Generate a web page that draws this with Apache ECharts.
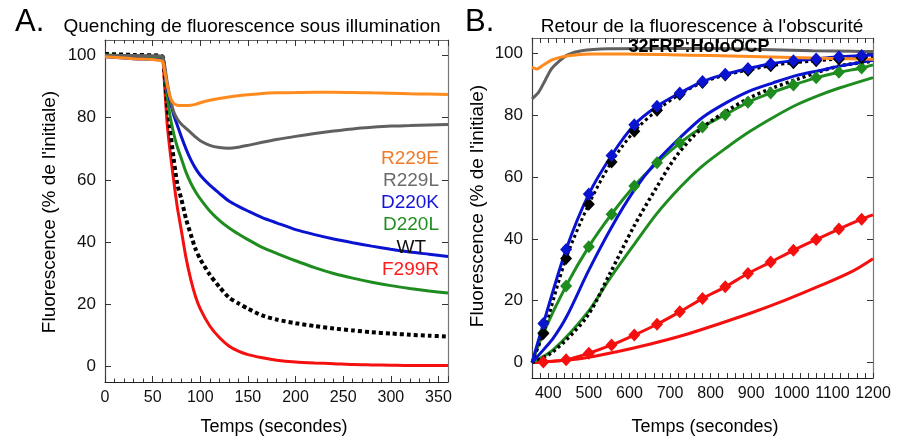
<!DOCTYPE html>
<html><head><meta charset="utf-8">
<script src="https://cdn.jsdelivr.net/npm/echarts@6/dist/echarts.min.js"></script>
<style>html,body{margin:0;padding:0;background:#fff}#c{width:897px;height:441px}</style>
</head><body><div id="c"></div>
<script>
// ---------- Panel A : quenching (time in s) ----------
const tA = [0,30,60,62,65,68,72,76,80,85,90,95,100,110,120,130,140,150,165,180,200,220,240,260,280,300,320,340,360];
const aR229E = [99.6,99.0,98.3,96,91,87,84.6,84,83.9,83.9,84,84.3,84.8,85.6,86.2,86.7,87.1,87.4,87.8,88,88.1,88.2,88.2,88.1,88,87.9,87.7,87.6,87.5];
const aR229L = [100,100,99.8,98,92,87,82,79.5,78,76.6,75.2,73.8,72.6,71.1,70.4,70.2,70.5,71.1,72.1,73,74,74.9,75.7,76.4,76.9,77.3,77.5,77.7,77.8];
const aD220K = [99.6,99,98.5,97,90,86,81,77.5,74,70,66.5,63.7,61.5,58.3,55.7,53.2,51.5,50,47.9,46.2,44,42.4,41,39.8,38.7,37.7,36.8,36.1,35.4];
const aD220L = [100.2,99.8,99.3,97,88,81,75,70.5,67,62.5,59,56.2,53.9,50,47,44.6,42.6,40.8,38.3,36.4,34,31.8,29.9,28.4,27.1,26,25.1,24.3,23.6];
const aWT    = [100.5,100.2,99.8,96,85,77,67,58.5,54,47.5,42.5,37.8,34.5,29.5,25.6,22.2,20.3,18.6,16.4,15.1,13.9,13,12.2,11.6,11,10.6,10.2,9.9,9.6];
const aF299R = [99.8,99.2,98.6,93,79,70,60,51,44,35,28,22.5,18.5,13,9.3,6.6,4.9,3.8,2.8,2,1.4,1.1,0.9,0.6,0.5,0.4,0.3,0.3,0.3];
const legendA = ['R229E','R229L','D220K','D220L','WT','F299R'];

// ---------- Panel B : recovery in the dark ----------
const tB_R229E = [360,372,385,409,434,467,508,589,700,800,900,1000,1100,1200];
const vB_R229E = [95.5,95.0,96.0,97.9,98.9,99.5,99.8,99.8,99.6,99.3,99.0,98.7,98.4,98.1];
const tB_R229L = [360,376,392,408,425,449,482,548,650,750,850,950,1050,1150,1200];
const vB_R229L = [85.3,87.4,91.2,95.0,97.3,99.6,100.9,101.5,101.6,101.6,101.5,101.2,100.9,100.7,100.6];
const tB_D220K = [360,388,412,445,500,556,611,665,725,780,839,897,954,1012,1069,1118,1200];
const vB_D220K = [0,4.1,7.8,14.8,29.9,43.8,55.6,64.8,72.8,79.3,84.1,87.9,90.5,92.9,94.5,95.9,97.8];
const tB_WT = [360,412,495,552,610,667,716,778,840,897,954,1012,1061,1119,1200];
const vB_WT = [0,3.5,14.8,28.8,43.8,56.7,66.9,75.8,81.4,85.7,88.9,91.6,93.8,96.0,97.5];
const tB_D220L = [360,412,495,552,610,667,725,778,840,897,954,1012,1070,1119,1200];
const vB_D220L = [0,4.1,15.9,27.2,37.9,48.1,56.7,63.4,69.6,74.8,79.3,83.4,86.6,88.9,92.2];
const tB_F299R = [360,403,486,569,652,735,818,901,984,1067,1150,1200];
const vB_F299R = [0,0.3,1.4,3.5,6.0,8.9,12.4,16.1,20.2,24.7,29.6,33.6];
// with 32FRP (diamond markers), line from 360 to 1200
const tB_FRP = [360,388,444,500,556,612,668,724,780,836,892,948,1004,1060,1116,1172,1200];
const vB_D220K_FRP = [0,12.6,36.6,54.5,67.0,76.9,82.9,87.2,90.9,93.3,95.1,96.7,97.6,98.2,98.9,99.3,99.5];
const vB_WT_FRP    = [0,9.4,33.7,51.2,64.9,74.8,81.6,86.8,90.6,93.0,94.6,96.0,97.0,97.6,98.2,98.6,98.8];
const vB_D220L_FRP = [0,9.6,24.8,37.5,48.0,57.1,64.6,71.0,76.2,80.2,84.2,87.2,89.8,92.1,93.9,95.3,96.3];
const vB_F299R_FRP = [0,0.2,0.9,3.0,5.7,8.9,12.4,16.4,20.7,24.5,28.8,32.5,36.3,39.8,43.2,46.4,47.8];

const yTicks = [0,20,40,60,80,100];
const xTicksB = [400,500,600,700,800,900,1000,1100,1200];

const C = {orange:'#FF8A1E', gray:'#606060', blue:'#0A14D0', green:'#1E8C1E', black:'#000000', red:'#F50F0F'};
const LEGC = ['#F07A28','#6B6B6B','#1414D8','#1F8F1F','#111111','#FF1A1A'];
const FONT = "'Liberation Sans', Arial, Helvetica, sans-serif";

const zip = (t, v) => t.map((x, i) => [x, v[i]]);
const plain = v => String(v);

function xAx(grid, pos, min, max, extra, labels) {
  return Object.assign({
    type:'value', gridIndex:grid, position:pos, min:min, max:max,
    axisLine:{show:true, onZero:false, lineStyle:{color: pos==='bottom' ? '#222' : '#666', width:1.2}},
    axisTick:{show:true, inside:true, length:6, lineStyle:{color:'#333'}},
    axisLabel:{show:labels, color:'#111', fontSize:16, fontFamily:FONT, margin:8, formatter:plain},
    splitLine:{show:false}
  }, extra);
}
function yAx(grid, pos, labels) {
  return {
    type:'value', gridIndex:grid, position:pos, min:-5, max:105,
    axisLine:{show:true, onZero:false, lineStyle:{color: pos==='left' ? '#444' : '#777', width:1.2}},
    axisTick:{show:true, inside:true, length:6, customValues:yTicks, lineStyle:{color:'#333'}},
    axisLabel:{show:labels, customValues:yTicks, color:'#111', fontSize:17, fontFamily:FONT, margin:9, formatter:plain},
    splitLine:{show:false}
  };
}

const aExtra = {interval:50, minorTick:{show:true, splitNumber:5, length:3.5, lineStyle:{color:'#333'}}};
const bExtra = {interval:20};

function lineA(name, data, color, extra) {
  return Object.assign({
    type:'line', name:name, xAxisIndex:0, yAxisIndex:0, data:zip(tA, data),
    showSymbol:false, symbol:'none', smooth:0.25, silent:true,
    lineStyle:{color:color, width:3}
  }, extra || {});
}
function lineB(name, t, v, color, extra) {
  return Object.assign({
    type:'line', name:name, xAxisIndex:2, yAxisIndex:2, data:zip(t, v),
    showSymbol:false, symbol:'none', smooth:0.3, silent:true,
    lineStyle:{color:color, width:3}
  }, extra || {});
}
function frpB(name, v, color, dotted) {
  const last = v.length - 1;
  return {
    type:'line', name:name, xAxisIndex:2, yAxisIndex:2, data:zip(tB_FRP, v),
    smooth:0.3, silent:true, showSymbol:true, symbol:'diamond',
    symbolSize:(val, p) => (p.dataIndex === 0 || p.dataIndex === last) ? 0 : [12, 13],
    itemStyle:{color:color, borderWidth:0},
    lineStyle:{color:color, width:3, type: dotted ? [3,3] : 'solid'}
  };
}

const txt = (text, x, y, opt) => ({
  type:'text', x:x, y:y, z:100, rotation:(opt && opt.rot) || 0,
  style:{text:text, fill:(opt && opt.color) || '#000', font:((opt && opt.weight) || 'normal') + ' ' + ((opt && opt.size) || 18) + 'px ' + FONT,
         textAlign:(opt && opt.align) || 'center', textVerticalAlign:'middle'}
});

const option = {
  animation:false,
  backgroundColor:'#fff',
  grid:[
    {left:105, top:40, width:343, height:342},
    {left:532, top:38, width:341, height:340}
  ],
  xAxis:[
    xAx(0,'bottom',0,360,Object.assign({}, aExtra, {axisLabel:{show:true, showMaxLabel:false, color:'#111', fontSize:16, fontFamily:FONT, margin:8, formatter:plain}}), true),
    xAx(0,'top',0,360,aExtra,false),
    xAx(1,'bottom',360,1200,Object.assign({}, bExtra, {axisTick:{show:true, inside:true, length:5, lineStyle:{color:'#333'}},
        axisLabel:{show:true, customValues:xTicksB, color:'#111', fontSize:16, fontFamily:FONT, margin:8, formatter:plain}}), true),
    xAx(1,'top',360,1200,Object.assign({}, bExtra, {axisTick:{show:true, inside:true, length:5, lineStyle:{color:'#333'}}}),false)
  ],
  yAxis:[ yAx(0,'left',true), yAx(0,'right',false), yAx(1,'left',true), yAx(1,'right',false) ],
  series:[
    lineA('F299R', aF299R, C.red),
    lineA('WT', aWT, C.black, {lineStyle:{color:C.black, width:4, type:[4,3], cap:'butt'}}),
    lineA('D220L', aD220L, C.green),
    lineA('D220K', aD220K, C.blue),
    lineA('R229L', aR229L, C.gray),
    lineA('R229E', aR229E, C.orange),

    lineB('F299R', tB_F299R, vB_F299R, C.red),
    frpB('F299R+FRP', vB_F299R_FRP, C.red, false),
    lineB('D220L', tB_D220L, vB_D220L, C.green),
    frpB('D220L+FRP', vB_D220L_FRP, C.green, false),
    lineB('WT', tB_WT, vB_WT, C.black, {lineStyle:{color:C.black, width:3.5, type:[3,3], cap:'butt'}}),
    frpB('WT+FRP', vB_WT_FRP, C.black, true),
    lineB('D220K', tB_D220K, vB_D220K, C.blue),
    frpB('D220K+FRP', vB_D220K_FRP, C.blue, false),
    lineB('R229L', tB_R229L, vB_R229L, C.gray),
    lineB('R229E', tB_R229E, vB_R229E, C.orange)
  ],
  graphic:[
    txt('A.', 15, 22, {size:31, align:'left'}),
    txt('B.', 465, 22, {size:31, align:'left'}),
    txt('Quenching de fluorescence sous illumination', 252, 27, {size:19}),
    txt("Retour de la fluorescence à l'obscurité", 702, 27, {size:19}),
    txt('Temps (secondes)', 274, 427, {size:18}),
    txt('Temps (secondes)', 705, 427, {size:18}),
    txt("Fluorescence (% de l'initiale)", 50, 212, {size:19, rot:Math.PI/2}),
    txt("Fluorescence (% de l'initiale)", 478, 206, {size:19, rot:Math.PI/2}),
    txt('32FRP:HoloOCP', 699, 47.5, {size:18, weight:'bold'}),
    txt(legendA[0], 439, 159, {size:19, align:'right', color:LEGC[0]}),
    txt(legendA[1], 439, 181, {size:19, align:'right', color:LEGC[1]}),
    txt(legendA[2], 439, 203, {size:19, align:'right', color:LEGC[2]}),
    txt(legendA[3], 439, 225, {size:19, align:'right', color:LEGC[3]}),
    txt(legendA[4], 426, 248, {size:19, align:'right', color:LEGC[4]}),
    txt(legendA[5], 439, 270, {size:19, align:'right', color:LEGC[5]})
  ]
};
const chart = echarts.init(document.getElementById('c'), null, {renderer:'canvas'});
chart.setOption(option);
</script>
</body></html>
